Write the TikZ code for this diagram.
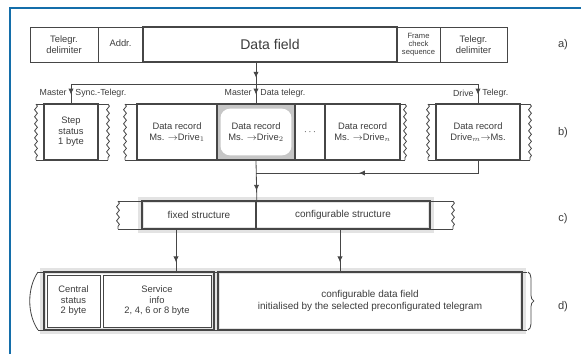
\documentclass[tikz,border=0pt]{standalone}
\usepackage{fontspec}
\setmainfont{Liberation Sans}
\usepackage{xcolor}
\definecolor{frameblue}{RGB}{20,110,170}
\definecolor{linegray}{RGB}{70,70,70}
\definecolor{txtgray}{RGB}{60,60,60}
\usetikzlibrary{
  arrows.meta, positioning, calc, backgrounds,
  decorations.pathmorphing, decorations.pathreplacing, decorations.markings
}
\tikzset{
  cell/.style={
    rectangle, draw=linegray, line width=0.7pt, inner sep=0pt,
    align=center, text=txtgray, font=\fontsize{8}{9}\selectfont},
  thickcell/.style={cell, line width=1.4pt},
  rowa/.style={minimum height=1.05cm},
  rowb/.style={minimum height=1.68cm},
  rowc/.style={minimum height=0.84cm, font=\fontsize{8.5}{10}\selectfont},
  rowd/.style={minimum height=1.74cm},
  hilite/.style={
    fill=gray!45,
    path picture={\fill[white, rounded corners=8pt]
      ([shift={(3pt,4pt)}]path picture bounding box.south west) rectangle
      ([shift={(-3pt,-4pt)}]path picture bounding box.north east);}},
  wire/.style={draw=linegray, line width=0.7pt},
  wavy/.style={wire, decorate,
    decoration={snake, amplitude=1.2pt, segment length=6pt}},
  midarr/.style={wire, postaction={decorate},
    decoration={markings,
      mark=at position #1 with {\arrow{Latex[length=5pt,width=4.5pt]}}}},
  halo/.style={draw=gray!22, line width=5pt},
  lbl/.style={text=txtgray, font=\fontsize{7.5}{8.5}\selectfont, inner sep=1pt},
  tag/.style={text=txtgray, font=\fontsize{9.5}{11}\selectfont},
}

\begin{document}
\begin{tikzpicture}[x=0.03cm, y=-0.03cm]
  \useasboundingbox (0,0) rectangle (581,354);
  \draw[frameblue, line width=1.8pt] (10,354) -- (10,8) -- (581,8);

  % a) telegram frame
  \node[cell, rowa, minimum width=2.04cm] (tdl) at (64,44.5) {Telegr.\\delimiter};
  \node[cell, rowa, minimum width=1.35cm] (adr) at (120.5,44.5) {\raisebox{3pt}{Addr.}};
  \node[thickcell, rowa, minimum width=7.62cm,
        font=\fontsize{12}{14}\selectfont] (dfield) at (270,44.5) {Data field};
  \node[cell, rowa, minimum width=1.29cm,
        font=\fontsize{6.5}{7}\selectfont] (fcs) at (418.5,44.5) {Frame\\check\\sequence};
  \node[cell, rowa, minimum width=2.01cm] (tdr) at (473.5,44.5) {Telegr.\\delimiter};
  \node[tag] (taga) at (563,45) {a)};

  \coordinate (bus) at (256,84);
  \coordinate (busl) at (71,84);
  \coordinate (busr) at (478,84);
  \draw[midarr=0.7] (dfield.south -| bus) -- (bus);
  \draw[wire] (busl) -- (busr);

  % b) telegram types
  \draw[wire] (36,104) -- (108,104) (36,160) -- (108,160);
  \draw[wavy] (36,104) -- (36,160);
  \draw[wavy] (108,104) -- (108,160);
  \draw[wire] (125,104) -- (405,104) (125,160) -- (405,160);
  \draw[wavy] (125,104) -- (125,160);
  \draw[wavy] (405,104) -- (405,160);
  \draw[wire] (428,104) -- (530,104) (428,160) -- (530,160);
  \draw[wavy] (428,104) -- (428,160);
  \draw[wavy] (530,104) -- (530,160);

  \node[thickcell, rowb, minimum width=1.62cm] (mst) at (71,132) {Step\\status\\1 byte};
  \node[thickcell, rowb, minimum width=2.4cm] (rec1) at (177,132)
    {Data record\\Ms. $\rightarrow$Drive$_1$};
  \node[thickcell, rowb, hilite, minimum width=2.34cm] (rec2) at (256,132)
    {Data record\\Ms. $\rightarrow$Drive$_2$};
  \node[thickcell, rowb, minimum width=0.9cm] (dots) at (310,132) {$\cdots$};
  \node[thickcell, rowb, minimum width=2.25cm] (recn) at (362.5,132)
    {Data record\\Ms. $\rightarrow$Drive$_n$};
  \node[thickcell, rowb, minimum width=2.52cm] (at) at (478,132)
    {Data record\\Drive$_m$$\rightarrow$Ms.};
  \node[tag] (tagb) at (563,133) {b)};

  \node[lbl, anchor=east] (mstm) at (68,93) {Master};
  \node[lbl, anchor=west] (mstt) at (74,93) {Sync.-Telegr.};
  \node[lbl, anchor=east] (mdtm) at (253,93) {Master};
  \node[lbl, anchor=west] (mdtt) at (259,93) {Data telegr.};
  \node[lbl, anchor=east] (atd) at (475,93) {Drive};
  \node[lbl, anchor=west] (att) at (481,93) {Telegr.};
  \draw[midarr=0.55] (busl) -- (mst.north);
  \draw[midarr=0.55] (bus) -- (rec2.north);
  \draw[midarr=0.55] (busr) -- (at.north);

  \coordinate (ret) at (256,173);
  \draw[midarr=0.56] (at.south) |- (ret);

  % c) data field structure
  \draw[wire] (118,201) -- (453,201) (118,229) -- (453,229);
  \draw[wavy] (118,201) -- (118,229);
  \draw[wavy] (453,201) -- (453,229);
  \node[thickcell, rowc, minimum width=3.42cm] (fixed) at (199,215) {fixed structure};
  \node[thickcell, rowc, minimum width=5.22cm] (cfgs) at (343,215) {configurable structure};
  \begin{scope}[on background layer]
    \draw[halo] (fixed.north west) rectangle (cfgs.south east);
  \end{scope}
  \node[tag] (tagc) at (563,219) {c)};
  \draw[midarr=0.76] (rec2.south) -- (fixed.north east);

  % d) contents
  \draw[wire] (38,272) -- (527,272) (38,330) -- (527,330);
  \draw[wire] (38,272) .. controls (27,288) and (27,314) .. (38,330);
  \draw[wire, decorate, decoration={brace, amplitude=5pt}]
    (528,272) -- (528,330);
  \node[thickcell, rowd, minimum width=5.1cm] (dfix) at (129,301) {};
  \node[cell, minimum width=1.59cm, minimum height=1.56cm] (cstat) at (73.5,301)
    {Central\\status\\2 byte};
  \node[cell, minimum width=3.24cm, minimum height=1.56cm] (sinfo) at (157,301)
    {Service\\info\\2, 4, 6 or 8 byte};
  \node[thickcell, rowd, minimum width=9.12cm,
        font=\fontsize{8.5}{10.5}\selectfont] (dcfg) at (370,301)
    {configurable data field\\initialised by the selected preconfigurated telegram};
  \begin{scope}[on background layer]
    \draw[halo] (dfix.north west) rectangle (dfix.south east);
    \draw[halo] (dcfg.north west) rectangle (dcfg.south east);
  \end{scope}
  \node[tag] (tagd) at (563,307) {d)};

  \coordinate (fx) at (176,229);
  \coordinate (cx) at (340,229);
  \draw[midarr=0.79] (fx) -- (fx |- dfix.north);
  \draw[midarr=0.79] (cx) -- (cx |- dcfg.north);
\end{tikzpicture}
\end{document}
